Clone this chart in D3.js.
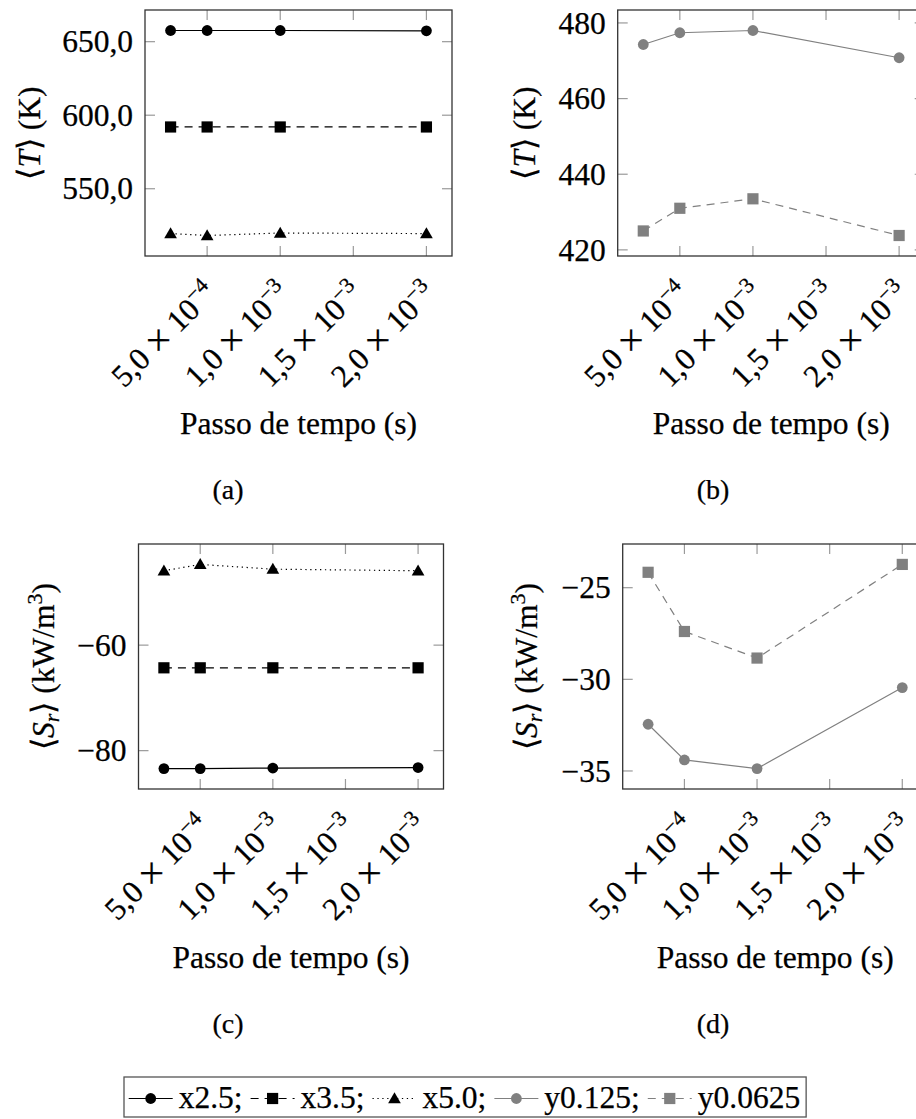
<!DOCTYPE html>
<html>
<head>
<meta charset="utf-8">
<script src="https://cdn.jsdelivr.net/npm/d3@7"></script>
<style>
  html, body { margin: 0; padding: 0; background: #fff; overflow: hidden; }
  svg { display: block; }
</style>
</head>
<body>
<script>
// ---------------- DATA ----------------
const timeSteps = [2.5e-4, 5e-4, 1e-3, 2e-3];
const xTicks = [5e-4, 1e-3, 1.5e-3, 2e-3];
const xTickMantissa = ["5,0", "1,0", "1,5", "2,0"];
const xTickExponent = ["−4", "−3", "−3", "−3"];

// (a) mean temperature, x-stations
const T_x25 = [657.6, 657.6, 657.6, 657.4];
const T_x35 = [592.0, 592.0, 592.0, 592.0];
const T_x50 = [519.5, 518.2, 519.9, 519.5];
// (b) mean temperature, y-stations
const T_y0125 = [474.3, 477.4, 478.0, 470.8];
const T_y00625 = [425.0, 431.0, 433.5, 423.8];
// (c) mean radiative source, x-stations
const Sr_x25 = [-83.4, -83.4, -83.3, -83.2];
const Sr_x35 = [-64.3, -64.3, -64.3, -64.3];
const Sr_x50 = [-45.9, -44.7, -45.6, -45.9];
// (d) mean radiative source, y-stations
const Sr_y0125 = [-32.45, -34.40, -34.87, -30.45];
const Sr_y00625 = [-24.16, -27.39, -28.84, -23.73];

const yTicksA = [550, 600, 650];
const yTicksB = [420, 440, 460, 480];
const yTicksC = [-80, -60];
const yTicksD = [-35, -30, -25];

const seriesNames = ["x2.5", "x3.5", "x5.0", "y0.125", "y0.0625"];

// ---------------- STYLE ----------------
const FONT = "Liberation Serif";
const BLACK = "#000", GRAY = "#808080";
const DASH = "8,6", DOT = "1.3,3.6";
const FS = 31.5;
const styles = {
  "x2.5":   { color: BLACK, dash: null, marker: "circle" },
  "x3.5":   { color: BLACK, dash: DASH, marker: "square" },
  "x5.0":   { color: BLACK, dash: DOT,  marker: "triangle" },
  "y0.125": { color: GRAY,  dash: null, marker: "circle" },
  "y0.0625":{ color: GRAY,  dash: DASH, marker: "square" }
};

const W = 916, H = 1119;
const svg = d3.select("body").append("svg").attr("width", W).attr("height", H)
  .attr("font-family", FONT);

function txt(sel) {
  return sel.append("text").attr("font-family", FONT).attr("fill", "#000")
    .attr("stroke", "#000").attr("stroke-width", 0.25);
}

function drawMarker(g, type, cx, cy, color) {
  if (type === "circle") {
    g.append("circle").attr("cx", cx).attr("cy", cy).attr("r", 5.4).attr("fill", color);
  } else if (type === "square") {
    g.append("rect").attr("x", cx - 5.6).attr("y", cy - 5.6).attr("width", 11.2).attr("height", 11.2).attr("fill", color);
  } else {
    const s = d3.symbol().type(d3.symbolTriangle).size(70);
    g.append("path").attr("d", s()).attr("transform", `translate(${cx},${cy + 1})`).attr("fill", color);
  }
}

const xDomain = [timeSteps[0] - 0.1 * (timeSteps[3] - timeSteps[0]), timeSteps[3] + 0.1 * (timeSteps[3] - timeSteps[0])];

const panels = [
  { box: [145, 452, 10, 256], series: [["x2.5", T_x25], ["x3.5", T_x35], ["x5.0", T_x50]],
    yTicks: yTicksA, fmt: d => d3.format(".1f")(d).replace(".", ","), title: "T", titleX: 29, capX: 228, capY: 499, xlabY: 434 },
  { box: [617.7, 924.7, 10, 256], series: [["y0.125", T_y0125], ["y0.0625", T_y00625]],
    yTicks: yTicksB, fmt: d => String(d), title: "T", titleX: 524, capX: 713, capY: 499, xlabY: 434 },
  { box: [138.5, 443.5, 544, 789], series: [["x2.5", Sr_x25], ["x3.5", Sr_x35], ["x5.0", Sr_x50]],
    yTicks: yTicksC, fmt: d => String(d).replace("-", "−"), title: "S", titleX: 43, capX: 228, capY: 1033, xlabY: 968 },
  { box: [622.7, 927.7, 544, 789], series: [["y0.125", Sr_y0125], ["y0.0625", Sr_y00625]],
    yTicks: yTicksD, fmt: d => String(d).replace("-", "−"), title: "S", titleX: 526, capX: 713, capY: 1033, xlabY: 968 }
];
const captions = ["(a)", "(b)", "(c)", "(d)"];

panels.forEach((p, pi) => {
  const [x0, x1, y0, y1] = p.box;
  const all = p.series.flatMap(s => s[1]);
  const mn = d3.min(all), mx = d3.max(all), pad = 0.1 * (mx - mn);
  const x = d3.scaleLinear().domain(xDomain).range([x0, x1]);
  const y = d3.scaleLinear().domain([mn - pad, mx + pad]).range([y1, y0]);
  const g = svg.append("g");

  // ticks (inside, mirrored)
  const tk = g.append("g").attr("stroke", "#9a9a9a").attr("stroke-width", 1.2);
  xTicks.forEach(t => {
    tk.append("line").attr("x1", x(t)).attr("x2", x(t)).attr("y1", y1).attr("y2", y1 - 10);
    tk.append("line").attr("x1", x(t)).attr("x2", x(t)).attr("y1", y0).attr("y2", y0 + 10);
  });
  p.yTicks.forEach(t => {
    tk.append("line").attr("x1", x0).attr("x2", x0 + 10).attr("y1", y(t)).attr("y2", y(t));
    tk.append("line").attr("x1", x1).attr("x2", x1 - 10).attr("y1", y(t)).attr("y2", y(t));
  });

  // box
  g.append("rect").attr("x", x0).attr("y", y0).attr("width", x1 - x0).attr("height", y1 - y0)
    .attr("fill", "none").attr("stroke", "#333").attr("stroke-width", 1.3);

  // series
  p.series.forEach(([name, vals]) => {
    const st = styles[name];
    const line = d3.line().x((d, i) => x(timeSteps[i])).y(d => y(d));
    g.append("path").attr("d", line(vals)).attr("fill", "none").attr("stroke", st.color)
      .attr("stroke-width", 1.2).attr("stroke-dasharray", st.dash);
    vals.forEach((v, i) => drawMarker(g, st.marker, x(timeSteps[i]), y(v), st.color));
  });

  // y tick labels
  p.yTicks.forEach(t => {
    txt(g).attr("x", x0 - 12).attr("y", y(t)).attr("dy", "0.34em")
      .attr("text-anchor", "end").attr("font-size", FS).text(p.fmt(t));
  });

  // x tick labels (rotated)
  xTicks.forEach((t, i) => {
    const tg = g.append("g").attr("transform", `translate(${x(t) + 11},${y1 + 39}) rotate(-45)`);
    const tx = txt(tg).attr("text-anchor", "end").attr("font-size", FS);
    tx.append("tspan").text(xTickMantissa[i] + " ");
    tx.append("tspan").attr("font-size", 40).attr("dy", 3).text("×");
    tx.append("tspan").attr("dy", -3).text(" 10");
    tx.append("tspan").attr("font-size", 22).attr("dy", -12).text(xTickExponent[i]);
  });

  // x axis label
  txt(g).attr("x", (x0 + x1) / 2).attr("y", p.xlabY).attr("text-anchor", "middle")
    .attr("font-size", FS).text("Passo de tempo (s)");

  // y axis title
  const yc = (y0 + y1) / 2;
  const tt = txt(g).attr("transform", `translate(${p.titleX},${yc}) rotate(-90)`)
    .attr("text-anchor", "middle").attr("dy", "0.34em").attr("font-size", FS);
  if (p.title === "T") {
    tt.append("tspan").text("⟨");
    tt.append("tspan").attr("font-style", "italic").text("T");
    tt.append("tspan").text("⟩ (K)");
  } else {
    tt.append("tspan").text("⟨");
    tt.append("tspan").attr("font-style", "italic").text("S");
    tt.append("tspan").attr("font-style", "italic").attr("font-size", 22).attr("dy", 5).text("r");
    tt.append("tspan").attr("dy", -5).text("⟩ (kW/m");
    tt.append("tspan").attr("font-size", 22).attr("dy", -12).text("3");
    tt.append("tspan").attr("dy", 12).text(")");
  }

  // caption
  txt(g).attr("x", p.capX).attr("y", p.capY).attr("text-anchor", "middle")
    .attr("font-size", 28).text(captions[pi]);
});

// ---------------- LEGEND ----------------
const lg = svg.append("g");
const legBase = 1107.5, legMark = 1098.5;
let mx = 150.7;
let lastEnd = 0;
seriesNames.forEach((name, i) => {
  const st = styles[name];
  lg.append("line").attr("x1", mx - 22).attr("x2", mx + 22).attr("y1", legMark).attr("y2", legMark)
    .attr("stroke", st.color).attr("stroke-width", 1.2).attr("stroke-dasharray", st.dash);
  drawMarker(lg, st.marker, mx, legMark, st.color);
  const t = txt(lg).attr("x", mx + 28).attr("y", legBase).attr("font-size", FS)
    .text(name + (i < seriesNames.length - 1 ? ";" : ""));
  const w = t.node().getComputedTextLength();
  lastEnd = mx + 28 + w;
  mx = lastEnd + 30;
});
lg.insert("rect", ":first-child").attr("x", 124).attr("y", 1077).attr("width", lastEnd + 6 - 124).attr("height", 40)
  .attr("fill", "#fff").attr("stroke", "#555").attr("stroke-width", 1.3);
</script>
</body>
</html>
